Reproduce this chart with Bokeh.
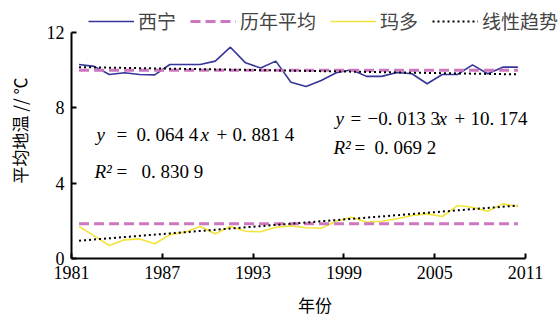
from bokeh.plotting import figure
from bokeh.models import Legend, LegendItem, Label, FixedTicker, Range1d
from bokeh.embed import file_html
from bokeh.resources import INLINE

# ---------------- data ----------------
years = list(range(1981, 2011))
xining = [10.30, 10.20, 9.77, 9.86, 9.77, 9.75, 10.30, 10.30, 10.30, 10.48,
          11.22, 10.39, 10.11, 10.48, 9.36, 9.13, 9.45, 9.86, 10.02, 9.67,
          9.67, 9.88, 9.81, 9.28, 9.77, 9.77, 10.28, 9.81, 10.16, 10.16]
maduo = [1.70, 1.20, 0.69, 0.99, 1.04, 0.78, 1.26, 1.40, 1.70, 1.31,
         1.70, 1.45, 1.42, 1.66, 1.73, 1.63, 1.61, 1.98, 2.19, 1.93,
         1.98, 2.11, 2.28, 2.37, 2.23, 2.81, 2.72, 2.51, 2.90, 2.76]
xining_mean = 10.0
maduo_mean = 1.84
xining_slope, xining_icpt = -0.0133, 10.174
maduo_slope, maduo_icpt = 0.0644, 0.8814
x_ticks = [1981, 1987, 1993, 1999, 2005, 2011]
y_ticks = [0, 4, 8, 12]
series_names = ["西宁", "历年平均", "玛多", "线性趋势"]
x_title = "年份"
y_title = "平均地温 // ℃"

# ---------------- derived ----------------
xs = [y + 0.5 for y in years]              # category centres
idx = list(range(1, len(years) + 1))
xining_fit = [xining_slope * i + xining_icpt for i in idx]
maduo_fit = [maduo_slope * i + maduo_icpt for i in idx]

# ---------------- layout / style ----------------
SERIF = "Times New Roman, Liberation Serif, serif"
CJK = "Noto Sans CJK SC"
BLUE = "#35359a"
PINK = "#cc77c0"
YELLOW = "#f3e43c"
W, H = 560, 321
FRAME_TOP = 2        # px: frame extends above/right of the axes so the legend fits inside
FRAME_RIGHT = 558
AXIS_LEFT, AXIS_RIGHT = 71, 525
AXIS_TOP, AXIS_BOTTOM = 32, 258
py_per_unit = (AXIS_BOTTOM - AXIS_TOP) / (y_ticks[-1] - y_ticks[0])
px_per_unit = (AXIS_RIGHT - AXIS_LEFT) / (x_ticks[-1] - x_ticks[0])
y_top = y_ticks[-1] + (AXIS_TOP - FRAME_TOP) / py_per_unit
x_end = x_ticks[-1] + (FRAME_RIGHT - AXIS_RIGHT) / px_per_unit

p = figure(width=W, height=H, output_backend="svg", toolbar_location=None,
           x_range=Range1d(x_ticks[0], x_end), y_range=Range1d(y_ticks[0], y_top),
           min_border_left=AXIS_LEFT, min_border_right=W - FRAME_RIGHT,
           min_border_top=FRAME_TOP, min_border_bottom=H - AXIS_BOTTOM)
p.outline_line_color = None
p.xgrid.visible = False
p.ygrid.visible = False
p.background_fill_color = "white"

r_x = p.line(xs, xining, line_color=BLUE, line_width=1.6)
r_xm = p.line(xs, [xining_mean] * len(xs), line_color=PINK, line_width=3, line_dash="10 5")
r_xt = p.line(xs, xining_fit, line_color="black", line_width=2, line_dash="2 3")
r_m = p.line(xs, maduo, line_color=YELLOW, line_width=1.6)
r_mm = p.line(xs, [maduo_mean] * len(xs), line_color=PINK, line_width=3, line_dash="10 5")
r_mt = p.line(xs, maduo_fit, line_color="black", line_width=2, line_dash="2 3")

for ax, ticks in ((p.xaxis, x_ticks), (p.yaxis, y_ticks)):
    ax.ticker = FixedTicker(ticks=ticks)
    ax.bounds = (ticks[0], ticks[-1])
    ax.minor_tick_line_color = None
    ax.major_tick_in = 5
    ax.major_tick_out = 0
    ax.axis_line_width = 2
    ax.axis_line_color = "black"
    ax.major_tick_line_width = 2
    ax.major_label_text_font = SERIF
    ax.major_label_text_font_size = "18px"
    ax.major_label_text_color = "black"
    ax.axis_label_text_font = CJK
    ax.axis_label_text_font_size = "17px"
    ax.axis_label_text_font_style = "normal"
    ax.axis_label_text_color = "black"

p.xaxis.axis_label = x_title
p.yaxis.axis_label = y_title
p.xaxis.major_label_standoff = 7
p.xaxis.axis_label_standoff = 10
p.yaxis.major_label_standoff = 7
p.yaxis.axis_label_standoff = 12

legend = Legend(items=[LegendItem(label=series_names[0], renderers=[r_x]),
                       LegendItem(label=series_names[1], renderers=[r_xm]),
                       LegendItem(label=series_names[2], renderers=[r_m]),
                       LegendItem(label=series_names[3], renderers=[r_xt])],
                orientation="horizontal", location=(17, 224),
                glyph_width=46, glyph_height=20, label_height=20, label_standoff=4,
                spacing=14, padding=0, margin=0,
                label_text_font=CJK, label_text_font_size="19px",
                border_line_color=None, background_fill_alpha=0)
p.add_layout(legend, "center")

def equation(x, y, pieces):
    for text, italic, off in pieces:
        p.add_layout(Label(x=x, y=y, x_offset=off, text=text,
                           text_font=SERIF, text_font_size="19px",
                           text_font_style="italic" if italic else "normal",
                           text_baseline="middle", text_align="left",
                           text_color="black"))

equation(1982.65, 6.585, [("y", True, 0), ("=", False, 20), ("0. 064 4", False, 40),
                          ("x", True, 104), ("+", False, 120), ("0. 881 4", False, 136)])
equation(1982.52, 4.62, [("R²", True, 0), ("=", False, 22), ("0. 830 9", False, 47)])
equation(1998.45, 7.435, [("y", True, 0), ("=", False, 15), ("−0. 013 3", False, 32),
                          ("x", True, 103), ("+", False, 119), ("10. 174", False, 135)])
equation(1998.31, 5.895, [("R²", True, 0), ("=", False, 21), ("0. 069 2", False, 41)])

open("out.html", "w").write(file_html(p, INLINE))
